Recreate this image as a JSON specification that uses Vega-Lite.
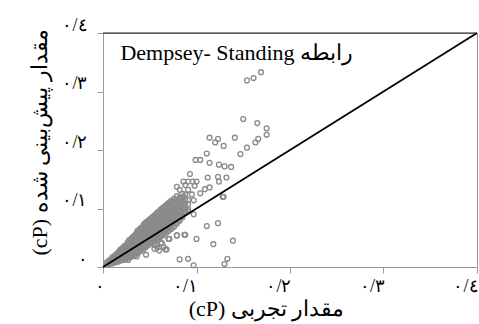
{
  "$schema": "https://vega.github.io/schema/vega-lite/v6.json",
  "width": 374,
  "height": 234,
  "autosize": {"type": "none"},
  "padding": {"left": 103, "top": 33, "right": 2, "bottom": 57},
  "background": "white",
  "config": {
    "view": {"stroke": "#9a9a9a", "strokeWidth": 1},
    "font": "Liberation Serif",
    "axis": {"grid": false, "domainColor": "#9a9a9a", "tickColor": "#9a9a9a", "tickSize": 6, "labelColor": "#000", "titleColor": "#000", "labelFont": "Liberation Serif", "titleFont": "Liberation Serif", "labelFontSize": 18, "titleFontSize": 22, "titleFontWeight": "normal"}
  },
  "layer": [
    {
      "data": {"values": [
        {"x":0.004,"y":0.004},{"x":0.004,"y":0.008},
        {"x":0.007,"y":0.005},{"x":0.007,"y":0.009},{"x":0.007,"y":0.012},
        {"x":0.010,"y":0.006},{"x":0.010,"y":0.010},{"x":0.010,"y":0.014},{"x":0.010,"y":0.017},
        {"x":0.013,"y":0.008},{"x":0.013,"y":0.012},{"x":0.013,"y":0.016},{"x":0.013,"y":0.020},
        {"x":0.016,"y":0.009},{"x":0.016,"y":0.014},{"x":0.016,"y":0.019},{"x":0.016,"y":0.024},
        {"x":0.019,"y":0.011},{"x":0.019,"y":0.016},{"x":0.019,"y":0.021},{"x":0.019,"y":0.026},{"x":0.019,"y":0.030},
        {"x":0.022,"y":0.012},{"x":0.022,"y":0.018},{"x":0.022,"y":0.024},{"x":0.022,"y":0.029},{"x":0.022,"y":0.034},
        {"x":0.025,"y":0.014},{"x":0.025,"y":0.020},{"x":0.025,"y":0.026},{"x":0.025,"y":0.032},{"x":0.025,"y":0.038},
        {"x":0.028,"y":0.016},{"x":0.028,"y":0.022},{"x":0.028,"y":0.028},{"x":0.028,"y":0.034},{"x":0.028,"y":0.040},{"x":0.028,"y":0.046},
        {"x":0.031,"y":0.018},{"x":0.031,"y":0.024},{"x":0.031,"y":0.030},{"x":0.031,"y":0.037},{"x":0.031,"y":0.043},{"x":0.031,"y":0.050},
        {"x":0.034,"y":0.020},{"x":0.034,"y":0.027},{"x":0.034,"y":0.033},{"x":0.034,"y":0.040},{"x":0.034,"y":0.047},{"x":0.034,"y":0.054},
        {"x":0.037,"y":0.023},{"x":0.037,"y":0.030},{"x":0.037,"y":0.036},{"x":0.037,"y":0.043},{"x":0.037,"y":0.050},{"x":0.037,"y":0.058},{"x":0.037,"y":0.062},
        {"x":0.040,"y":0.027},{"x":0.040,"y":0.033},{"x":0.040,"y":0.040},{"x":0.040,"y":0.047},{"x":0.040,"y":0.054},{"x":0.040,"y":0.060},{"x":0.040,"y":0.066},
        {"x":0.043,"y":0.030},{"x":0.043,"y":0.037},{"x":0.043,"y":0.044},{"x":0.043,"y":0.051},{"x":0.043,"y":0.058},{"x":0.043,"y":0.065},{"x":0.043,"y":0.071},
        {"x":0.046,"y":0.034},{"x":0.046,"y":0.041},{"x":0.046,"y":0.048},{"x":0.046,"y":0.055},{"x":0.046,"y":0.062},{"x":0.046,"y":0.069},{"x":0.046,"y":0.076},
        {"x":0.049,"y":0.038},{"x":0.049,"y":0.045},{"x":0.049,"y":0.052},{"x":0.049,"y":0.059},{"x":0.049,"y":0.066},{"x":0.049,"y":0.073},{"x":0.049,"y":0.080},
        {"x":0.052,"y":0.041},{"x":0.052,"y":0.048},{"x":0.052,"y":0.055},{"x":0.052,"y":0.062},{"x":0.052,"y":0.070},{"x":0.052,"y":0.077},{"x":0.052,"y":0.084},
        {"x":0.055,"y":0.044},{"x":0.055,"y":0.051},{"x":0.055,"y":0.059},{"x":0.055,"y":0.066},{"x":0.055,"y":0.073},{"x":0.055,"y":0.081},{"x":0.055,"y":0.088},
        {"x":0.058,"y":0.047},{"x":0.058,"y":0.055},{"x":0.058,"y":0.062},{"x":0.058,"y":0.070},{"x":0.058,"y":0.077},{"x":0.058,"y":0.085},{"x":0.058,"y":0.093},
        {"x":0.061,"y":0.051},{"x":0.061,"y":0.058},{"x":0.061,"y":0.066},{"x":0.061,"y":0.073},{"x":0.061,"y":0.081},{"x":0.061,"y":0.089},{"x":0.061,"y":0.097},
        {"x":0.064,"y":0.054},{"x":0.064,"y":0.062},{"x":0.064,"y":0.070},{"x":0.064,"y":0.077},{"x":0.064,"y":0.085},{"x":0.064,"y":0.093},{"x":0.064,"y":0.101},
        {"x":0.067,"y":0.058},{"x":0.067,"y":0.065},{"x":0.067,"y":0.073},{"x":0.067,"y":0.081},{"x":0.067,"y":0.089},{"x":0.067,"y":0.097},{"x":0.067,"y":0.105},
        {"x":0.070,"y":0.061},{"x":0.070,"y":0.069},{"x":0.070,"y":0.077},{"x":0.070,"y":0.085},{"x":0.070,"y":0.093},{"x":0.070,"y":0.101},{"x":0.070,"y":0.109},
        {"x":0.073,"y":0.065},{"x":0.073,"y":0.073},{"x":0.073,"y":0.081},{"x":0.073,"y":0.089},{"x":0.073,"y":0.097},{"x":0.073,"y":0.105},{"x":0.073,"y":0.113},
        {"x":0.076,"y":0.069},{"x":0.076,"y":0.077},{"x":0.076,"y":0.085},{"x":0.076,"y":0.093},{"x":0.076,"y":0.101},{"x":0.076,"y":0.109},{"x":0.076,"y":0.117},
        {"x":0.079,"y":0.074},{"x":0.079,"y":0.082},{"x":0.079,"y":0.090},{"x":0.079,"y":0.098},{"x":0.079,"y":0.106},{"x":0.079,"y":0.114},{"x":0.079,"y":0.121},
        {"x":0.082,"y":0.079},{"x":0.082,"y":0.087},{"x":0.082,"y":0.095},{"x":0.082,"y":0.103},{"x":0.082,"y":0.111},{"x":0.082,"y":0.119},
        {"x":0.085,"y":0.085},{"x":0.085,"y":0.093},{"x":0.085,"y":0.101},{"x":0.085,"y":0.109},{"x":0.085,"y":0.117},{"x":0.085,"y":0.125},
        {"x":0.088,"y":0.092},{"x":0.088,"y":0.100},{"x":0.088,"y":0.108},{"x":0.088,"y":0.116},{"x":0.088,"y":0.124},
        {"x":0.091,"y":0.099},{"x":0.091,"y":0.107},{"x":0.091,"y":0.115},
        {"x":0.0055,"y":0.006},
        {"x":0.0085,"y":0.007},{"x":0.0085,"y":0.011},
        {"x":0.0115,"y":0.008},{"x":0.0115,"y":0.012},{"x":0.0115,"y":0.015},
        {"x":0.0145,"y":0.010},{"x":0.0145,"y":0.014},{"x":0.0145,"y":0.018},{"x":0.0145,"y":0.022},
        {"x":0.0175,"y":0.012},{"x":0.0175,"y":0.017},{"x":0.0175,"y":0.022},{"x":0.0175,"y":0.027},
        {"x":0.0205,"y":0.014},{"x":0.0205,"y":0.019},{"x":0.0205,"y":0.024},{"x":0.0205,"y":0.028},{"x":0.0205,"y":0.032},
        {"x":0.0235,"y":0.015},{"x":0.0235,"y":0.021},{"x":0.0235,"y":0.027},{"x":0.0235,"y":0.033},{"x":0.0235,"y":0.036},
        {"x":0.0265,"y":0.017},{"x":0.0265,"y":0.023},{"x":0.0265,"y":0.029},{"x":0.0265,"y":0.035},{"x":0.0265,"y":0.042},
        {"x":0.0295,"y":0.019},{"x":0.0295,"y":0.026},{"x":0.0295,"y":0.032},{"x":0.0295,"y":0.038},{"x":0.0295,"y":0.045},
        {"x":0.0325,"y":0.022},{"x":0.0325,"y":0.028},{"x":0.0325,"y":0.035},{"x":0.0325,"y":0.042},{"x":0.0325,"y":0.049},{"x":0.0325,"y":0.052},
        {"x":0.0355,"y":0.025},{"x":0.0355,"y":0.031},{"x":0.0355,"y":0.038},{"x":0.0355,"y":0.045},{"x":0.0355,"y":0.052},{"x":0.0355,"y":0.057},
        {"x":0.0385,"y":0.028},{"x":0.0385,"y":0.035},{"x":0.0385,"y":0.042},{"x":0.0385,"y":0.049},{"x":0.0385,"y":0.056},{"x":0.0385,"y":0.063},
        {"x":0.0415,"y":0.031},{"x":0.0415,"y":0.038},{"x":0.0415,"y":0.045},{"x":0.0415,"y":0.052},{"x":0.0415,"y":0.059},{"x":0.0415,"y":0.066},
        {"x":0.0445,"y":0.034},{"x":0.0445,"y":0.041},{"x":0.0445,"y":0.048},{"x":0.0445,"y":0.055},{"x":0.0445,"y":0.062},{"x":0.0445,"y":0.069},{"x":0.0445,"y":0.074},
        {"x":0.0475,"y":0.038},{"x":0.0475,"y":0.045},{"x":0.0475,"y":0.052},{"x":0.0475,"y":0.059},{"x":0.0475,"y":0.066},{"x":0.0475,"y":0.073},{"x":0.0475,"y":0.078},
        {"x":0.0505,"y":0.041},{"x":0.0505,"y":0.048},{"x":0.0505,"y":0.055},{"x":0.0505,"y":0.062},{"x":0.0505,"y":0.069},{"x":0.0505,"y":0.077},{"x":0.0505,"y":0.082},
        {"x":0.0535,"y":0.044},{"x":0.0535,"y":0.052},{"x":0.0535,"y":0.059},{"x":0.0535,"y":0.066},{"x":0.0535,"y":0.073},{"x":0.0535,"y":0.081},{"x":0.0535,"y":0.086},
        {"x":0.0565,"y":0.048},{"x":0.0565,"y":0.055},{"x":0.0565,"y":0.062},{"x":0.0565,"y":0.070},{"x":0.0565,"y":0.077},{"x":0.0565,"y":0.085},{"x":0.0565,"y":0.090},
        {"x":0.0595,"y":0.051},{"x":0.0595,"y":0.059},{"x":0.0595,"y":0.066},{"x":0.0595,"y":0.074},{"x":0.0595,"y":0.081},{"x":0.0595,"y":0.089},{"x":0.0595,"y":0.094},
        {"x":0.0625,"y":0.055},{"x":0.0625,"y":0.062},{"x":0.0625,"y":0.070},{"x":0.0625,"y":0.077},{"x":0.0625,"y":0.085},{"x":0.0625,"y":0.093},{"x":0.0625,"y":0.099},
        {"x":0.0655,"y":0.058},{"x":0.0655,"y":0.066},{"x":0.0655,"y":0.074},{"x":0.0655,"y":0.081},{"x":0.0655,"y":0.089},{"x":0.0655,"y":0.097},{"x":0.0655,"y":0.103},
        {"x":0.0685,"y":0.062},{"x":0.0685,"y":0.070},{"x":0.0685,"y":0.077},{"x":0.0685,"y":0.085},{"x":0.0685,"y":0.093},{"x":0.0685,"y":0.101},{"x":0.0685,"y":0.107},
        {"x":0.0715,"y":0.066},{"x":0.0715,"y":0.074},{"x":0.0715,"y":0.081},{"x":0.0715,"y":0.089},{"x":0.0715,"y":0.097},{"x":0.0715,"y":0.105},{"x":0.0715,"y":0.111},
        {"x":0.0745,"y":0.070},{"x":0.0745,"y":0.078},{"x":0.0745,"y":0.086},{"x":0.0745,"y":0.094},{"x":0.0745,"y":0.102},{"x":0.0745,"y":0.110},
        {"x":0.0775,"y":0.075},{"x":0.0775,"y":0.083},{"x":0.0775,"y":0.091},{"x":0.0775,"y":0.099},{"x":0.0775,"y":0.107},{"x":0.0775,"y":0.115},
        {"x":0.0805,"y":0.080},{"x":0.0805,"y":0.088},{"x":0.0805,"y":0.096},{"x":0.0805,"y":0.104},{"x":0.0805,"y":0.112},
        {"x":0.0835,"y":0.086},{"x":0.0835,"y":0.094},{"x":0.0835,"y":0.102},{"x":0.0835,"y":0.110},{"x":0.0835,"y":0.118},
        {"x":0.0865,"y":0.092},{"x":0.0865,"y":0.100},{"x":0.0865,"y":0.108},{"x":0.0865,"y":0.120},
        {"x":0.055,"y":0.038},{"x":0.058,"y":0.033},{"x":0.062,"y":0.040},{"x":0.065,"y":0.034},{"x":0.067,"y":0.030},
        {"x":0.060,"y":0.028},{"x":0.070,"y":0.048},{"x":0.079,"y":0.054},{"x":0.087,"y":0.055},{"x":0.082,"y":0.013},
        {"x":0.091,"y":0.014},{"x":0.097,"y":0.003},{"x":0.100,"y":0.048},{"x":0.118,"y":0.039},{"x":0.139,"y":0.045},
        {"x":0.111,"y":0.070},{"x":0.123,"y":0.075},{"x":0.097,"y":0.090},{"x":0.091,"y":0.095},{"x":0.133,"y":0.014},
        {"x":0.130,"y":0.005},{"x":0.128,"y":0.120},{"x":0.104,"y":0.126},{"x":0.095,"y":0.124},
        {"x":0.154,"y":0.319},{"x":0.161,"y":0.323},{"x":0.169,"y":0.333},{"x":0.150,"y":0.253},{"x":0.165,"y":0.246},
        {"x":0.175,"y":0.237},{"x":0.175,"y":0.226},{"x":0.114,"y":0.221},{"x":0.123,"y":0.219},{"x":0.120,"y":0.213},
        {"x":0.129,"y":0.207},{"x":0.141,"y":0.221},{"x":0.166,"y":0.219},{"x":0.163,"y":0.213},{"x":0.154,"y":0.204},
        {"x":0.147,"y":0.193},{"x":0.111,"y":0.194},{"x":0.099,"y":0.183},{"x":0.104,"y":0.183},{"x":0.114,"y":0.178},
        {"x":0.124,"y":0.175},{"x":0.130,"y":0.172},{"x":0.137,"y":0.171},{"x":0.093,"y":0.159},{"x":0.112,"y":0.153},
        {"x":0.123,"y":0.154},{"x":0.132,"y":0.153},{"x":0.086,"y":0.146},{"x":0.091,"y":0.146},{"x":0.096,"y":0.146},
        {"x":0.100,"y":0.146},{"x":0.124,"y":0.146},{"x":0.079,"y":0.137},{"x":0.088,"y":0.140},{"x":0.098,"y":0.139},
        {"x":0.109,"y":0.133},{"x":0.114,"y":0.136},{"x":0.082,"y":0.132},{"x":0.091,"y":0.132},
        {"x":0.129,"y":0.120},{"x":0.097,"y":0.114},{"x":0.079,"y":0.054},
        {"x":0.088,"y":0.055},{"x":0.071,"y":0.048},{"x":0.057,"y":0.038},{"x":0.063,"y":0.041},{"x":0.055,"y":0.031},
        {"x":0.068,"y":0.030},{"x":0.027,"y":0.012},{"x":0.046,"y":0.021},{"x":0.036,"y":0.018}
      ]},
      "mark": {"type": "point", "shape": "circle", "filled": false, "stroke": "#8a8a8a", "strokeWidth": 1.3, "size": 24, "opacity": 1},
      "encoding": {
        "x": {"field": "x", "type": "quantitative", "scale": {"domain": [0, 0.4], "nice": false},
          "axis": {"values": [0, 0.1, 0.2, 0.3, 0.4], "labelPadding": 4, "labelAlign": "right", "labelOffset": 1, "labelExpr": "round(datum.value*10)==0 ? '۰' : round(datum.value*10)==1 ? '۰/۱' : round(datum.value*10)==2 ? '۰/۲' : round(datum.value*10)==3 ? '۰/۳' : '۰/٤'", "labelFlush": false, "labelOverlap": false,
            "title": "\u202Bمقدار تجربی (cP)\u202C", "titlePadding": 3, "titleX": 163}},
        "y": {"field": "y", "type": "quantitative", "scale": {"domain": [0, 0.4], "nice": false},
          "axis": {"values": [0, 0.1, 0.2, 0.3, 0.4], "labelPadding": 10, "labelBaseline": "bottom", "labelOffset": 1, "labelExpr": "round(datum.value*10)==0 ? '۰' : round(datum.value*10)==1 ? '۰/۱' : round(datum.value*10)==2 ? '۰/۲' : round(datum.value*10)==3 ? '۰/۳' : '۰/٤'", "labelFlush": false, "labelOverlap": false,
            "title": "\u202Bمقدار پیش‌بینی شده (cP)\u202C", "titlePadding": 10, "titleY": 109}}
      }
    },
    {
      "data": {"values": [{"x": 0, "y": 0}, {"x": 0.4, "y": 0.4}]},
      "mark": {"type": "line", "color": "#000", "strokeWidth": 1.8},
      "encoding": {
        "x": {"field": "x", "type": "quantitative"},
        "y": {"field": "y", "type": "quantitative"}
      }
    },
    {
      "data": {"values": [{}]},
      "mark": {"type": "rule", "color": "#222", "strokeWidth": 1.2},
      "encoding": {"y": {"datum": 0.4}}
    },
    {
      "data": {"values": [{}]},
      "mark": {"type": "text", "text": "\u202Bرابطه Dempsey- Standing\u202C", "align": "center", "baseline": "middle", "font": "Liberation Serif", "fontSize": 22, "color": "#000"},
      "encoding": {"x": {"datum": 0.143}, "y": {"datum": 0.366}}
    }
  ]
}
